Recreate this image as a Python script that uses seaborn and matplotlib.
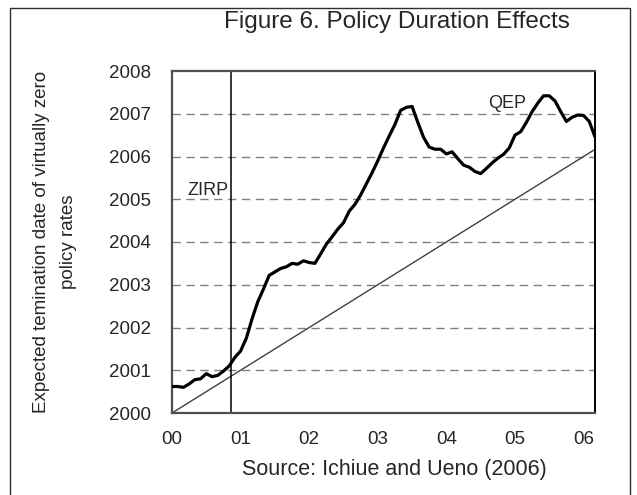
import numpy as np
import pandas as pd
import matplotlib
matplotlib.use("Agg")
import matplotlib.pyplot as plt
import seaborn as sns
from matplotlib.patches import Rectangle

# Expected termination date of ZIRP/QEP, monthly from Jan 2000 to Mar 2006
expected_end = [
    2000.62, 2000.62, 2000.60, 2000.68, 2000.78, 2000.80, 2000.92, 2000.85,
    2000.88, 2000.98, 2001.10, 2001.30,
    2001.45, 2001.75, 2002.20, 2002.60, 2002.90, 2003.22, 2003.30, 2003.38,
    2003.42, 2003.50, 2003.48, 2003.56,
    2003.52, 2003.50, 2003.72, 2003.95, 2004.12, 2004.30, 2004.45, 2004.72,
    2004.88, 2005.10, 2005.36, 2005.62,
    2005.90, 2006.20, 2006.48, 2006.75, 2007.08, 2007.15, 2007.17, 2006.80,
    2006.45, 2006.22, 2006.17, 2006.17,
    2006.06, 2006.11, 2005.95, 2005.80, 2005.75, 2005.65, 2005.60, 2005.72,
    2005.85, 2005.96, 2006.05, 2006.20,
    2006.50, 2006.58, 2006.80, 2007.05, 2007.25, 2007.42, 2007.42, 2007.30,
    2007.05, 2006.82, 2006.92, 2006.97,
    2006.96, 2006.82, 2006.46,
]
start_year = 2000
diag_years = [2000.0, 2006.2]
zirp_end = 2000.86
x_ticks = [2000, 2001, 2002, 2003, 2004, 2005, 2006]
x_tick_labels = ["00", "01", "02", "03", "04", "05", "06"]
y_ticks = list(range(2000, 2009))

df = pd.DataFrame({
    "date": start_year + np.arange(len(expected_end)) / 12.0,
    "expected": expected_end,
})
diag = pd.DataFrame({"date": diag_years, "expected": diag_years})

sns.set_style("white")
plt.rcParams["font.family"] = ["Liberation Sans", "DejaVu Sans"]

fig = plt.figure(figsize=(6.37, 4.95), dpi=100)
ax = fig.add_axes([172 / 637, 1 - 413 / 495, 423 / 637, 342 / 495])

# dashed gridlines
for yv in range(2001, 2008):
    ax.axhline(yv, color="#808080", lw=1.0, ls=(0, (6, 4)), zorder=1)

sns.lineplot(data=diag, x="date", y="expected", ax=ax, color="#404040",
             lw=1.0, zorder=2)
sns.lineplot(data=df, x="date", y="expected", ax=ax, color="black",
             lw=2.3, zorder=3)
ax.plot([zirp_end, zirp_end], [2000, 2008], color="black", lw=1.1, zorder=2)

ax.set_xlim(2000, df["date"].iloc[-1])
ax.set_ylim(2000, 2008)
ax.set_xticks(x_ticks)
ax.set_xticklabels(x_tick_labels)
ax.set_yticks(y_ticks)
ax.tick_params(axis="x", direction="in", length=5, width=1, color="#505050",
               pad=13, labelsize=13.5)
ax.tick_params(axis="y", length=0, pad=15, labelsize=13.5)
ax.set_xlabel("")
ax.set_ylabel("Expected temination date of virtually zero\npolicy rates",
              fontsize=13.5, linespacing=1.75)
ax.yaxis.set_label_coords(-0.225, 0.5)

for side in ["left", "top", "bottom"]:
    ax.spines[side].set_color("#505050")
    ax.spines[side].set_linewidth(1.6)
ax.spines["right"].set_color("black")
ax.spines["right"].set_linewidth(1.4)

ax.text(zirp_end - 0.03, 2005.2, "ZIRP", ha="right", va="center", fontsize=13)
ax.text(2004.89, 2007.25, "QEP", ha="center", va="center", fontsize=13)

fig.text(397 / 637, 1 - 22 / 495, "Figure 6. Policy Duration Effects",
         ha="center", va="center", fontsize=17.5)
fig.text(394 / 637, 1 - 469 / 495, "Source: Ichiue and Ueno (2006)",
         ha="center", va="center", fontsize=15.5)

fig.patches.append(Rectangle((10 / 637, -0.02), 620 / 637, 1.02 - 8 / 495,
                             transform=fig.transFigure, fill=False,
                             edgecolor="#303030", lw=1.0))

fig.savefig("out.png", dpi=100)
